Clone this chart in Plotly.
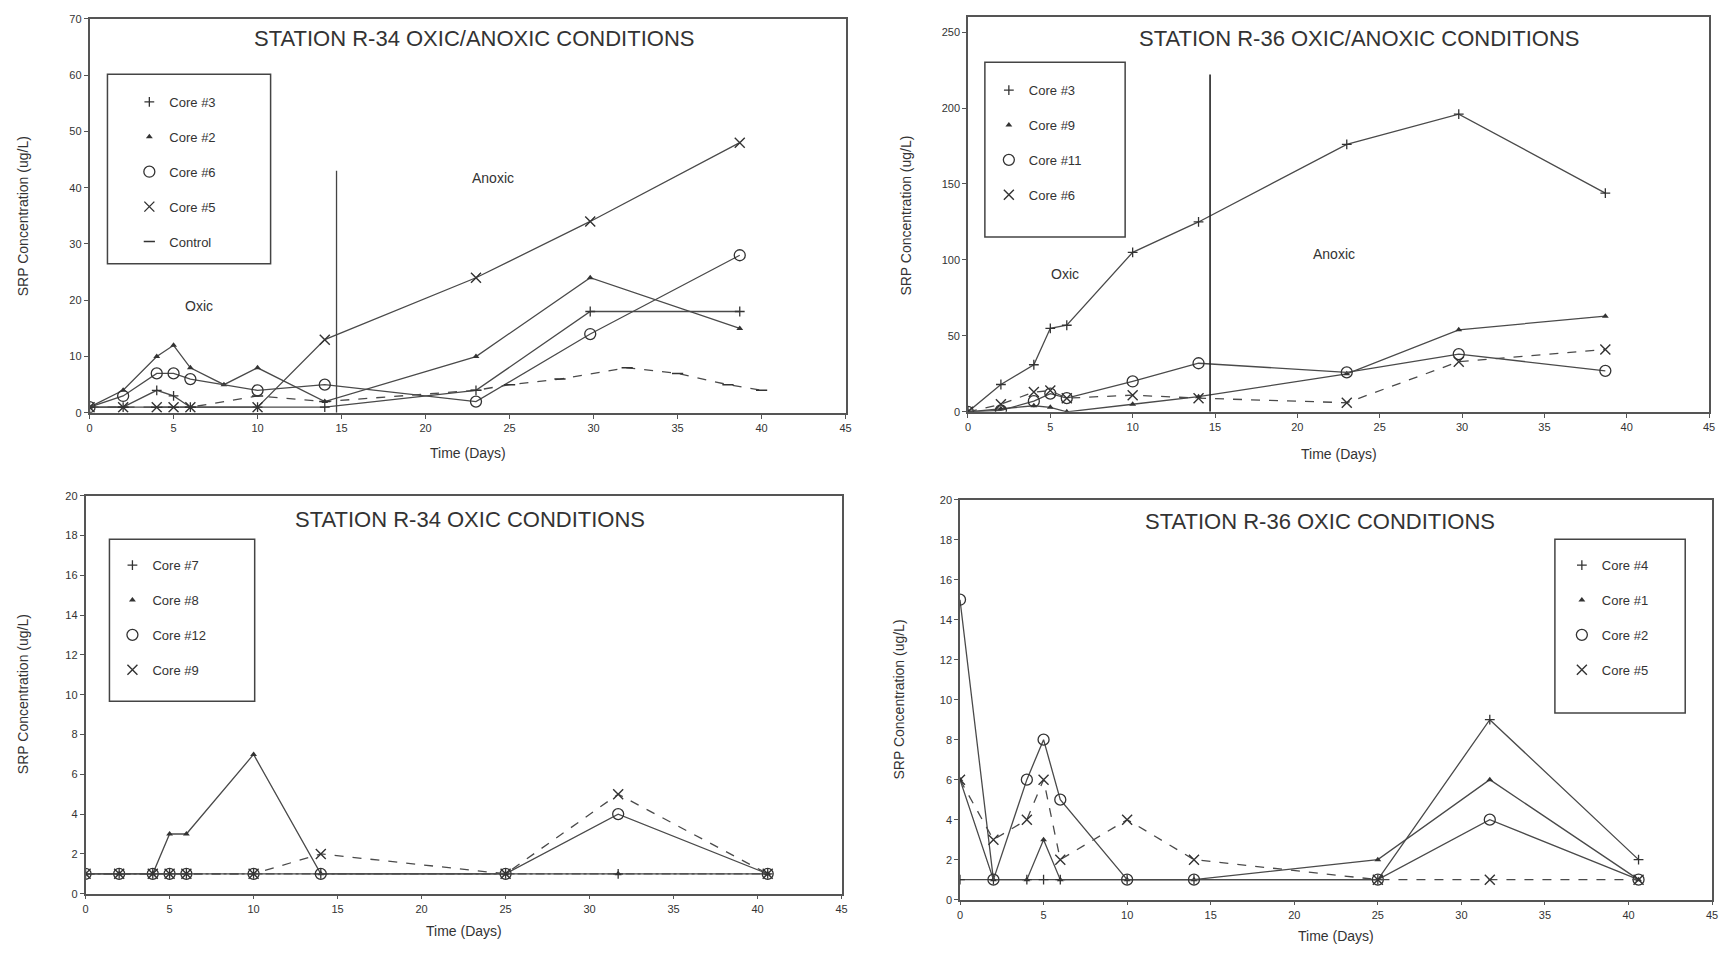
import plotly.graph_objects as go

# ---------------- DATA ----------------
# Top-left: Station R-34 oxic/anoxic
days_a = [0, 2, 4, 5, 6, 10, 14, 23, 29.8, 38.7]
days_a_core2 = [0, 2, 4, 5, 6, 8, 10, 14, 23, 29.8, 38.7]
r34a_core3 = [1, 1, 4, 3, 1, 1, 1, 4, 18, 18]
r34a_core2 = [1, 4, 10, 12, 8, 5, 8, 2, 10, 24, 15]
r34a_core6 = [1, 3, 7, 7, 6, 4, 5, 2, 14, 28]
r34a_core5 = [1, 1, 1, 1, 1, 1, 13, 24, 34, 48]
days_control = [0, 2, 4, 5, 6, 10, 14, 23, 25, 28, 32, 35, 38, 40]
r34a_control = [1, 1, 1, 1, 1, 3, 2, 4, 5, 6, 8, 7, 5, 4]

# Top-right: Station R-36 oxic/anoxic
r36a_core3 = [0, 18, 31, 55, 57, 105, 125, 176, 196, 144]
r36a_core9 = [0, 2, 4, 3, 0, 5, 10, 25, 54, 63]
r36a_core11 = [0, 1, 7, 12, 9, 20, 32, 26, 38, 27]
r36a_core6 = [0, 5, 13, 14, 9, 11, 9, 6, 33, 41]

# Bottom-left: Station R-34 oxic
days_b = [0, 2, 4, 5, 6, 10, 14, 25, 31.7, 40.6]
r34o_core7 = [1, 1, 1, 1, 1, 1, 1, 1, 1, 1]
r34o_core8 = [1, 1, 1, 3, 3, 7, 1, 1, 1, 1]
r34o_core12 = [1, 1, 1, 1, 1, 1, 1, 1, 4, 1]
r34o_core9 = [1, 1, 1, 1, 1, 1, 2, 1, 5, 1]

# Bottom-right: Station R-36 oxic
r36o_core4 = [1, 1, 1, 1, 1, 1, 1, 1, 9, 2]
r36o_core1 = [6, 1, 1, 3, 1, 1, 1, 2, 6, 1]
r36o_core2 = [15, 1, 6, 8, 5, 1, 1, 1, 4, 1]
r36o_core5 = [6, 3, 4, 6, 2, 4, 2, 1, 1, 1]

titles = ["STATION R-34 OXIC/ANOXIC CONDITIONS", "STATION R-36 OXIC/ANOXIC CONDITIONS",
          "STATION R-34 OXIC CONDITIONS", "STATION R-36 OXIC CONDITIONS"]
x_title = "Time (Days)"
y_title = "SRP Concentration (ug/L)"
anoxic_switch_day = 14.7

# ---------------- STYLE ----------------
W, H = 1733, 956
FONT = "Liberation Sans, Arial, sans-serif"
INK = "#333333"
LINE = "#4a4a4a"

def px(xp):
    return xp / W

def py(yp):
    return 1 - yp / H

fig = go.Figure()

SYM = {
    "plus": dict(symbol="cross-thin-open", size=7, color=INK, line=dict(width=1.3, color=INK)),
    "tri": dict(symbol="triangle-up", size=6, color=INK, line=dict(width=0, color=INK)),
    "circ": dict(symbol="circle-open", size=11, color=INK, line=dict(width=1.3, color=INK)),
    "x": dict(symbol="x-thin-open", size=10, color=INK, line=dict(width=1.4, color=INK)),
    "dash": dict(symbol="line-ew-open", size=8, color=INK, line=dict(width=1.5, color=INK)),
}

def add_series(x, y, name, sym, axis, legend, dash="solid"):
    xa, ya = axis
    m = dict(SYM[sym])
    fig.add_trace(go.Scatter(
        x=x, y=y, mode="lines+markers", name=name, xaxis=xa, yaxis=ya,
        line=dict(color=LINE, width=1.3, dash=dash), marker=m, showlegend=False,
        hoverinfo="x+y+name"))
    # legend-only entry showing just the marker
    fig.add_trace(go.Scatter(
        x=[None], y=[None], mode="markers", name=name, xaxis=xa, yaxis=ya,
        marker=m, legend=legend, legendgroup=legend + name, showlegend=True))

A1, A2, A3, A4 = ("x", "y"), ("x2", "y2"), ("x3", "y3"), ("x4", "y4")

add_series(days_a, r34a_core3, "Core #3", "plus", A1, "legend")
add_series(days_a_core2, r34a_core2, "Core #2", "tri", A1, "legend")
add_series(days_a, r34a_core6, "Core #6", "circ", A1, "legend")
add_series(days_a, r34a_core5, "Core #5", "x", A1, "legend")
add_series(days_control, r34a_control, "Control", "dash", A1, "legend", dash="dash")

add_series(days_a, r36a_core3, "Core #3", "plus", A2, "legend2")
add_series(days_a, r36a_core9, "Core #9", "tri", A2, "legend2")
add_series(days_a, r36a_core11, "Core #11", "circ", A2, "legend2")
add_series(days_a, r36a_core6, "Core #6", "x", A2, "legend2", dash="dash")

add_series(days_b, r34o_core7, "Core #7", "plus", A3, "legend3", dash="dashdot")
add_series(days_b, r34o_core8, "Core #8", "tri", A3, "legend3")
add_series(days_b, r34o_core12, "Core #12", "circ", A3, "legend3")
add_series(days_b, r34o_core9, "Core #9", "x", A3, "legend3", dash="dash")

add_series(days_b, r36o_core4, "Core #4", "plus", A4, "legend4")
add_series(days_b, r36o_core1, "Core #1", "tri", A4, "legend4")
add_series(days_b, r36o_core2, "Core #2", "circ", A4, "legend4")
add_series(days_b, r36o_core5, "Core #5", "x", A4, "legend4", dash="dash")

# plot boxes in pixels: (left, right, top, bottom)
boxes = [(87, 847, 13, 412), (970, 1715, 11, 411), (83, 843, 496, 899), (962, 1718, 500, 905)]
yranges = [[0, 70], [0, 260], [0, 20], [0, 20]]
ydticks = [10, 50, 2, 2]
ymaxtick = [70, 250, 20, 20]

axis_common = dict(showline=True, mirror=True, linecolor="#555555", linewidth=1.5,
                   ticks="outside", ticklen=4, tickcolor="#555555", tickwidth=1,
                   showgrid=False, zeroline=False,
                   tickfont=dict(family=FONT, size=11, color=INK))

layout = {}
for i, (l, r, t, b) in enumerate(boxes):
    sfx = "" if i == 0 else str(i + 1)
    layout["xaxis" + sfx] = dict(axis_common, domain=[px(l), px(r)], range=[0, 45],
                                 tickmode="array", tickvals=list(range(0, 46, 5)),
                                 anchor="y" + sfx)
    layout["yaxis" + sfx] = dict(axis_common, domain=[py(b), py(t)], range=yranges[i],
                                 tickmode="array",
                                 tickvals=list(range(0, ymaxtick[i] + 1, ydticks[i])),
                                 anchor="x" + sfx)

fig.update_layout(**layout)

annotations = []
# titles
title_pos = [(473, 33), (1363, 33), (469, 520), (1324, 522)]
for (tx, ty), txt in zip(title_pos, titles):
    annotations.append(dict(x=px(tx), y=py(ty), xref="paper", yref="paper", text=txt,
                            xanchor="center", yanchor="middle",
                            showarrow=False, font=dict(family=FONT, size=22, color=INK)))
# axis titles
xt_pos = [(467, 453), (1343, 454), (463, 937), (1340, 942)]
yt_pos = [(20, 213), (908, 212), (20, 697), (901, 702)]
for (tx, ty) in xt_pos:
    annotations.append(dict(x=px(tx), y=py(ty), xref="paper", yref="paper", text=x_title,
                            xanchor="center", yanchor="middle",
                            showarrow=False, font=dict(family=FONT, size=14, color=INK)))
for (tx, ty) in yt_pos:
    annotations.append(dict(x=px(tx), y=py(ty), xref="paper", yref="paper", text=y_title,
                            xanchor="center", yanchor="middle",
                            textangle=-90, showarrow=False,
                            font=dict(family=FONT, size=14, color=INK)))
# region labels
lbl = dict(showarrow=False, xanchor="center", yanchor="middle",
           font=dict(family=FONT, size=14, color=INK))
annotations += [
    dict(lbl, x=6.5, y=19, xref="x", yref="y", text="Oxic"),
    dict(lbl, x=24, y=41.7, xref="x", yref="y", text="Anoxic"),
    dict(lbl, x=5.9, y=91, xref="x2", yref="y2", text="Oxic"),
    dict(lbl, x=22.2, y=104, xref="x2", yref="y2", text="Anoxic"),
]

shapes = [
    dict(type="line", xref="x", yref="y", x0=anoxic_switch_day, x1=anoxic_switch_day,
         y0=0, y1=43, line=dict(color="#444444", width=1.3)),
    dict(type="line", xref="x2", yref="y2", x0=anoxic_switch_day, x1=anoxic_switch_day,
         y0=0, y1=222, line=dict(color="#222222", width=1.6)),
]
# legend boxes (pixels)
legend_boxes = [(105, 269, 69, 261), (987, 1128, 57, 234), (107, 253, 540, 704), (1560, 1691, 540, 716)]
for (l, r, t, b) in legend_boxes:
    shapes.append(dict(type="rect", xref="paper", yref="paper", x0=px(l), x1=px(r),
                       y0=py(b), y1=py(t), line=dict(color="#444444", width=1.5)))

legend_common = dict(bgcolor="rgba(0,0,0,0)", borderwidth=0, xanchor="left", yanchor="top",
                     traceorder="grouped", tracegroupgap=15, itemsizing="trace",
                     font=dict(family=FONT, size=13, color=INK))
legend_pos = [(127, 82), (991, 70), (110, 551), (1567, 551)]
fig.update_layout(
    legend=dict(legend_common, x=px(legend_pos[0][0]), y=py(legend_pos[0][1])),
    legend2=dict(legend_common, x=px(legend_pos[1][0]), y=py(legend_pos[1][1])),
    legend3=dict(legend_common, x=px(legend_pos[2][0]), y=py(legend_pos[2][1])),
    legend4=dict(legend_common, x=px(legend_pos[3][0]), y=py(legend_pos[3][1])),
)

fig.update_layout(width=W, height=H, margin=dict(l=0, r=0, t=0, b=0),
                  paper_bgcolor="white", plot_bgcolor="white",
                  annotations=annotations, shapes=shapes,
                  font=dict(family=FONT, color=INK))

fig.write_html("out.html", config={"displayModeBar": False},
               post_script="document.body.style.margin='0';document.body.style.overflow='hidden';")
